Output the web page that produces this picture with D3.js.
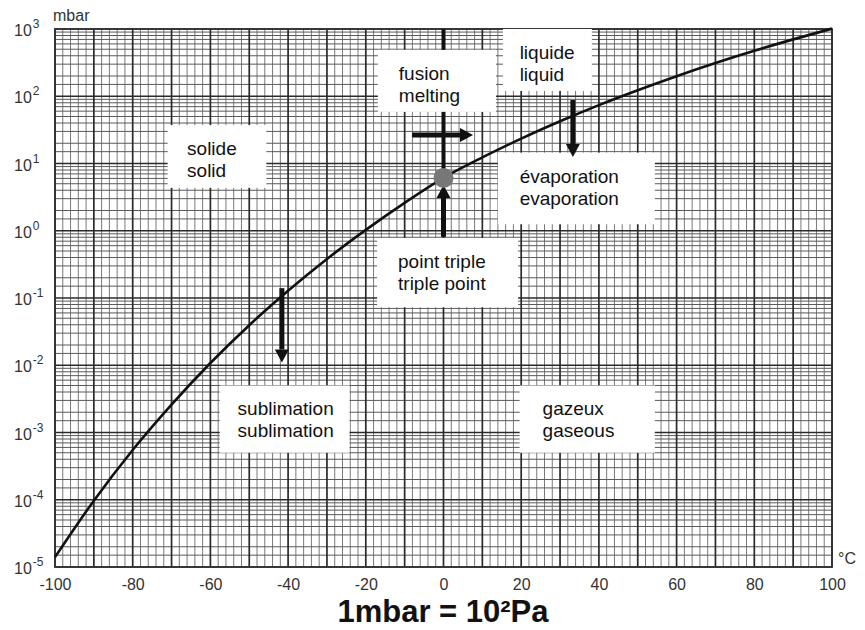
<!DOCTYPE html>
<html><head><meta charset="utf-8">
<script src="https://cdn.jsdelivr.net/npm/d3@7"></script>
<style>
html,body{margin:0;padding:0;background:#fff;}
svg{display:block;font-family:"Liberation Sans",Arial,sans-serif;}
</style></head>
<body><svg id="c" width="865" height="630"></svg>
<script>
// ---- data ----
const temperatures = [-100,-90,-80,-70,-60,-50,-40,-30,-20,-10,0,10,20,30,40,50,60,70,80,90,100];
const pressures = [1.4e-5,9.7e-5,5.5e-4,2.6e-3,1.08e-2,3.94e-2,0.128,0.38,1.03,2.6,6.11,12.3,23.4,42.4,73.8,123,199,312,474,701,1013];
const xTickLabels = [-100,-80,-60,-40,-20,0,20,40,60,80,100];
const yExponents = [3,2,1,0,-1,-2,-3,-4,-5];
const triplePoint = {t: 0, p: 6.11};
const labelLines = [
  ["solide","solid"],
  ["fusion","melting"],
  ["liquide","liquid"],
  ["évaporation","evaporation"],
  ["point triple","triple point"],
  ["sublimation","sublimation"],
  ["gazeux","gaseous"]
];
// box extents in data coords: [t0, t1, pTop, pBottom], text start t
const labelBoxes = [
  [-71, -45.6, 37.2, 4.35, -66.0],
  [-16.9, 13.5, 490, 58.5, -11.5],
  [15.3, 38.2, 1000, 120, 19.6],
  [14.0, 54.4, 14.5, 1.25, 19.6],
  [-17.1, 19.2, 0.78, 0.073, -11.7],
  [-57.6, -24.2, 0.0050, 0.00050, -53.0],
  [19.6, 54.4, 0.0050, 0.00050, 25.5]
];
const arrows = [ // [t1,p1,t2,p2]
  [-8.1, 26.5, 7.6, 26.5],
  [33.3, 88, 33.3, 12.5],
  [-41.6, 0.14, -41.6, 0.011],
  [0, 0.81, 0, 4.8]
];

// ---- layout ----
const L = 55, R = 832, T = 29, B = 567;
const svg = d3.select("#c");
const x = d3.scaleLinear().domain([-100,100]).range([L,R]);
const y = d3.scaleLog().domain([1e-5,1e3]).range([B,T]);

// grid
const g = svg.append("g");
const minorT = d3.range(-100,101,2).filter(t=>t%10!==0);
const majorT = d3.range(-100,101,10);
const minorP = [];
for (let e=-5;e<3;e++) for (const k of [1.5,2,3,4,5,6,7,8,9]) minorP.push(k*Math.pow(10,e));
const majorP = yExponents.map(e=>Math.pow(10,e));

g.selectAll(".vmin").data(minorT).join("line")
  .attr("x1",d=>x(d)).attr("x2",d=>x(d)).attr("y1",T).attr("y2",B)
  .attr("stroke","#7a7a7a").attr("stroke-width",1);
g.selectAll(".hmin").data(minorP).join("line")
  .attr("y1",d=>y(d)).attr("y2",d=>y(d)).attr("x1",L).attr("x2",R)
  .attr("stroke","#5a5a5a").attr("stroke-width",1);
g.selectAll(".vmaj").data(majorT).join("line")
  .attr("x1",d=>x(d)).attr("x2",d=>x(d)).attr("y1",T).attr("y2",B)
  .attr("stroke","#2a2a2a").attr("stroke-width",1.7);
g.selectAll(".hmaj").data(majorP).join("line")
  .attr("y1",d=>y(d)).attr("y2",d=>y(d)).attr("x1",L).attr("x2",R)
  .attr("stroke","#2a2a2a").attr("stroke-width",1.7);
g.append("rect").attr("x",L).attr("y",T).attr("width",R-L).attr("height",B-T)
  .attr("fill","none").attr("stroke","#333").attr("stroke-width",1.8);

// axis labels
const xAxis = d3.axisBottom(x).tickValues(xTickLabels).tickFormat(d=>String(d)).tickSize(0).tickPadding(12);
const xa = svg.append("g").attr("transform",`translate(0,${B})`).call(xAxis);
xa.select(".domain").remove();
xa.selectAll("text").attr("font-size",16).attr("fill","#333")
  .attr("font-family","Liberation Sans, Arial, sans-serif");

const ylab = svg.append("g");
yExponents.forEach(e=>{
  const t = ylab.append("text").attr("x",14).attr("y",y(Math.pow(10,e))+7)
    .attr("font-size",16).attr("fill","#333");
  t.append("tspan").text("10");
  t.append("tspan").attr("dy",-8).attr("dx",1).attr("font-size",12).text(String(e));
});
svg.append("text").attr("x",53).attr("y",21).attr("font-size",16).attr("fill","#333").text("mbar");
svg.append("text").attr("x",838).attr("y",564).attr("font-size",16).attr("fill","#333").text("°C");

// annotation boxes
labelBoxes.forEach((b,i)=>{
  const x0=x(b[0]), x1=x(b[1]), y0=y(b[2]), y1=y(b[3]);
  svg.append("rect").attr("x",x0).attr("y",y0).attr("width",x1-x0).attr("height",y1-y0).attr("fill","#fff");
});

// melting line (t=0) from top to triple point
svg.append("line").attr("x1",x(0)).attr("x2",x(0)).attr("y1",T).attr("y2",y(labelBoxes[1][2]))
  .attr("stroke","#111").attr("stroke-width",4);
svg.append("line").attr("x1",x(0)).attr("x2",x(0)).attr("y1",y(labelBoxes[1][3])).attr("y2",y(triplePoint.p))
  .attr("stroke","#111").attr("stroke-width",4);

// curve
const line = d3.line().x((d,i)=>x(temperatures[i])).y(d=>y(d)).curve(d3.curveMonotoneX);
svg.append("path").attr("d",line(pressures)).attr("fill","none").attr("stroke","#111").attr("stroke-width",2.6);

// arrows
arrows.forEach(a=>{
  const x1=x(a[0]),y1=y(a[1]),x2=x(a[2]),y2=y(a[3]);
  const ang=Math.atan2(y2-y1,x2-x1), hl=13, hw=7;
  const bx=x2-hl*Math.cos(ang), by=y2-hl*Math.sin(ang);
  svg.append("line").attr("x1",x1).attr("y1",y1).attr("x2",bx).attr("y2",by)
    .attr("stroke","#111").attr("stroke-width",5);
  const px=-Math.sin(ang)*hw, py=Math.cos(ang)*hw;
  svg.append("path").attr("d",`M${x2},${y2}L${bx+px},${by+py}L${bx-px},${by-py}Z`).attr("fill","#111");
});

// triple point
svg.append("circle").attr("cx",x(triplePoint.t)).attr("cy",y(triplePoint.p)).attr("r",10).attr("fill","#777");

// label text
labelBoxes.forEach((b,i)=>{
  const y0=y(b[2]);
  const t = svg.append("text").attr("font-size",19).attr("fill","#111");
  labelLines[i].forEach((s,j)=>{
    t.append("tspan").attr("x",x(b[4])).attr("y",y0+30+j*22).text(s);
  });
});

// title
svg.append("text").attr("x",443).attr("y",622).attr("text-anchor","middle")
  .attr("font-size",31).attr("font-weight","bold").attr("fill","#111").text("1mbar = 10²Pa");
</script></body></html>
